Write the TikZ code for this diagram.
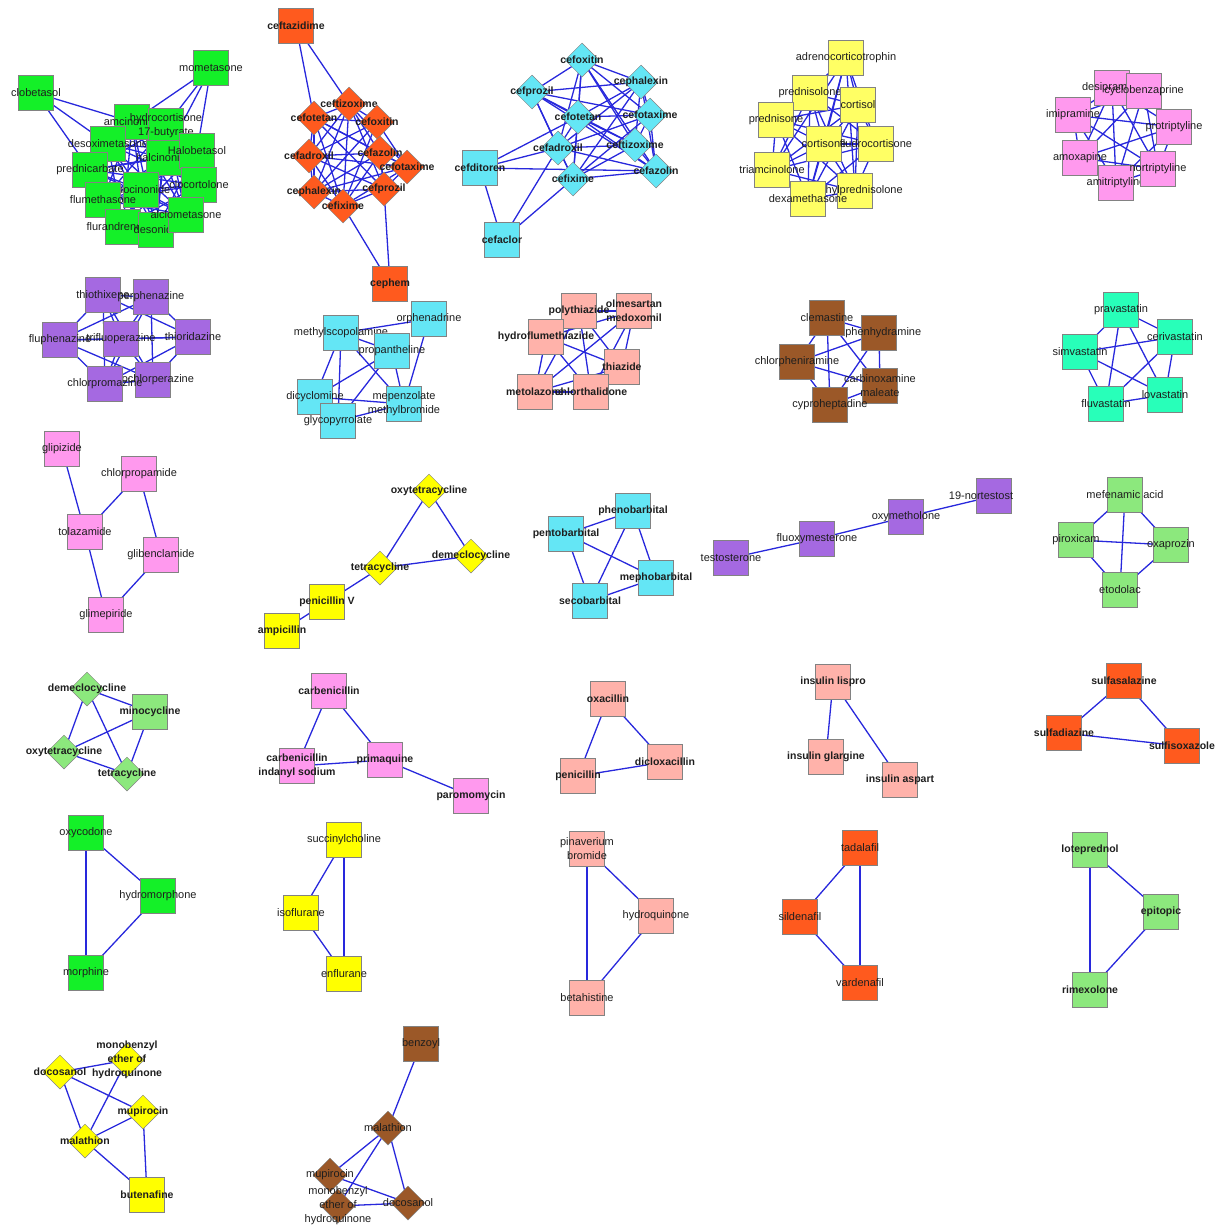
\documentclass[tikz,border=0pt]{standalone}
\usepackage{fontspec}
\setmainfont{Liberation Sans}
\usetikzlibrary{shapes.geometric}
\pgfdeclarelayer{bg}
\pgfsetlayers{bg,main}
\definecolor{cGreen}{RGB}{20,240,40}
\definecolor{cOrange}{RGB}{255,90,30}
\definecolor{cCyan}{RGB}{100,230,245}
\definecolor{cLYellow}{RGB}{255,255,100}
\definecolor{cYellow}{RGB}{255,255,0}
\definecolor{cPink}{RGB}{255,153,238}
\definecolor{cPurple}{RGB}{165,105,225}
\definecolor{cSalmon}{RGB}{255,178,170}
\definecolor{cBrown}{RGB}{155,88,40}
\definecolor{cTeal}{RGB}{40,255,185}
\definecolor{cLGreen}{RGB}{140,232,125}
\definecolor{edgeblue}{RGB}{40,40,220}
\definecolor{bord}{RGB}{130,130,130}
\definecolor{txt}{RGB}{30,30,30}
\tikzset{
  sqbox/.style={rectangle, draw=bord, line width=0.5pt, minimum width=35pt, minimum height=35pt, inner sep=0pt},
  dmbox/.style={diamond, draw=bord, line width=0.5pt, minimum width=34pt, minimum height=34pt, inner sep=0pt},
  lab/.style={font=\fontsize{11}{14}\selectfont, text=txt, align=center, inner sep=0pt},
  labb/.style={font=\fontsize{10.5}{14}\selectfont\bfseries, text=txt, align=center, inner sep=0pt},
  edge/.style={draw=edgeblue, line width=1.3pt}
}
\newcommand\SQ[5]{\node[sqbox,fill=#1,label={[lab]center:{#5}}] (#2) at (#3,#4) {};}
\newcommand\SQB[5]{\node[sqbox,fill=#1,label={[labb]center:{#5}}] (#2) at (#3,#4) {};}
\newcommand\DM[5]{\node[dmbox,fill=#1,label={[lab]center:{#5}}] (#2) at (#3,#4) {};}
\newcommand\DMB[5]{\node[dmbox,fill=#1,label={[labb]center:{#5}}] (#2) at (#3,#4) {};}
\newcommand\cliqueof[1]{\foreach \u [count=\i] in {#1}{\foreach \v [count=\j] in {#1}{\ifnum\i<\j\relax \draw[edge] (\u.center) -- (\v.center);\fi}}}
\newcommand\edgesof[1]{\foreach \u/\v in {#1}{\draw[edge] (\u.center) -- (\v.center);}}
\begin{document}
\begin{tikzpicture}[x=1pt,y=-1pt]
\useasboundingbox (0,0) rectangle (1219,1226);
% ---- green corticosteroids
\SQ{cGreen}{gclo}{36}{93}{clobetasol}
\SQ{cGreen}{gmom}{211}{68}{mometasone}
\SQ{cGreen}{gamc}{132}{122}{amcinonide}
\SQ{cGreen}{gdes}{108}{144}{desoximetasone}
\SQ{cGreen}{ghyd}{166}{126}{hydrocortisone\\17-butyrate}
\SQ{cGreen}{ghlc}{164}{158}{halcinonide}
\SQ{cGreen}{ghal}{197}{151}{Halobetasol}
\SQ{cGreen}{gpre}{90}{170}{prednicarbate}
\SQ{cGreen}{gflc}{141}{190}{fluocinonide}
\SQ{cGreen}{gclc}{199}{185}{clocortolone}
\SQ{cGreen}{gflm}{103}{200}{flumethasone}
\SQ{cGreen}{gflr}{123}{227}{flurandrenolide}
\SQ{cGreen}{gdsn}{156}{230}{desonide}
\SQ{cGreen}{galc}{186}{215}{alclometasone}
% ---- orange cephalosporins
\SQB{cOrange}{oftz}{296}{26}{ceftazidime}
\DMB{cOrange}{ofzx}{349}{104}{ceftizoxime}
\DMB{cOrange}{oftt}{314}{118}{cefotetan}
\DMB{cOrange}{ofox}{377}{122}{cefoxitin}
\DMB{cOrange}{ofad}{309}{156}{cefadroxil}
\DMB{cOrange}{ofaz}{380}{153}{cefazolin}
\DMB{cOrange}{ofta}{407}{167}{cefotaxime}
\DMB{cOrange}{ofph}{314}{192}{cephalexin}
\DMB{cOrange}{ofpr}{384}{189}{cefprozil}
\DMB{cOrange}{ofix}{343}{206}{cefixime}
\SQB{cOrange}{ophm}{390}{284}{cephem}
% ---- cyan cephalosporins
\DMB{cCyan}{cfox}{582}{60}{cefoxitin}
\DMB{cCyan}{cphx}{641}{82}{cephalexin}
\DMB{cCyan}{cfpr}{532}{92}{cefprozil}
\DMB{cCyan}{cftt}{578}{117}{cefotetan}
\DMB{cCyan}{cfta}{650}{115}{cefotaxime}
\DMB{cCyan}{cfad}{558}{148}{cefadroxil}
\DMB{cCyan}{cfzx}{635}{145}{ceftizoxime}
\DMB{cCyan}{cfaz}{656}{171}{cefazolin}
\DMB{cCyan}{cfix}{573}{179}{cefixime}
\SQB{cCyan}{cfdt}{480}{168}{cefditoren}
\SQB{cCyan}{cfcl}{502}{240}{cefaclor}
% ---- yellow corticosteroids
\SQ{cLYellow}{yadr}{846}{58}{adrenocorticotrophin}
\SQ{cLYellow}{ypsl}{810}{93}{prednisolone}
\SQ{cLYellow}{ycsl}{858}{105}{cortisol}
\SQ{cLYellow}{ypsn}{776}{120}{prednisone}
\SQ{cLYellow}{ycsn}{824}{144}{cortisone}
\SQ{cLYellow}{yfld}{876}{144}{fludrocortisone}
\SQ{cLYellow}{ytri}{772}{170}{triamcinolone}
\SQ{cLYellow}{ymet}{855}{191}{methylprednisolone}
\SQ{cLYellow}{ydex}{808}{199}{dexamethasone}
% ---- pink tricyclics
\SQ{cPink}{tdes}{1112}{88}{desipramine}
\SQ{cPink}{tcyc}{1144}{91}{cyclobenzaprine}
\SQ{cPink}{timi}{1073}{115}{imipramine}
\SQ{cPink}{tpro}{1174}{127}{protriptyline}
\SQ{cPink}{tamo}{1080}{158}{amoxapine}
\SQ{cPink}{tami}{1116}{183}{amitriptyline}
\SQ{cPink}{tnor}{1158}{169}{nortriptyline}
% ---- purple phenothiazines
\SQ{cPurple}{pthx}{103}{295}{thiothixene}
\SQ{cPurple}{pper}{151}{297}{perphenazine}
\SQ{cPurple}{pflu}{60}{340}{fluphenazine}
\SQ{cPurple}{ptri}{121}{339}{trifluoperazine}
\SQ{cPurple}{pthr}{193}{337}{thioridazine}
\SQ{cPurple}{ppro}{153}{380}{prochlorperazine}
\SQ{cPurple}{pchl}{105}{384}{chlorpromazine}
% ---- cyan anticholinergics
\SQ{cCyan}{aorp}{429}{319}{orphenadrine}
\SQ{cCyan}{amsc}{341}{333}{methylscopolamine}
\SQ{cCyan}{apro}{392}{351}{propantheline}
\SQ{cCyan}{adic}{315}{397}{dicyclomine}
\SQ{cCyan}{agly}{338}{421}{glycopyrrolate}
\SQ{cCyan}{amep}{404}{404}{mepenzolate\\methylbromide}
% ---- salmon thiazides
\SQB{cSalmon}{hpol}{579}{311}{polythiazide}
\SQB{cSalmon}{holm}{634}{311}{olmesartan\\medoxomil}
\SQB{cSalmon}{hhyd}{546}{337}{hydroflumethiazide}
\SQB{cSalmon}{hthi}{622}{367}{thiazide}
\SQB{cSalmon}{hmet}{535}{392}{metolazone}
\SQB{cSalmon}{hchl}{591}{392}{chlorthalidone}
% ---- brown antihistamines
\SQ{cBrown}{bdip}{879}{333}{diphenhydramine}
\SQ{cBrown}{bcle}{827}{318}{clemastine}
\SQ{cBrown}{bchl}{797}{362}{chlorpheniramine}
\SQ{cBrown}{bcar}{880}{386}{carbinoxamine\\maleate}
\SQ{cBrown}{bcyp}{830}{405}{cyproheptadine}
% ---- statins
\SQ{cTeal}{spra}{1121}{310}{pravastatin}
\SQ{cTeal}{scer}{1175}{337}{cerivastatin}
\SQ{cTeal}{ssim}{1080}{352}{simvastatin}
\SQ{cTeal}{slov}{1165}{395}{lovastatin}
\SQ{cTeal}{sflu}{1106}{404}{fluvastatin}
% ---- sulfonylureas
\SQ{cPink}{ugli}{62}{449}{glipizide}
\SQ{cPink}{uchl}{139}{474}{chlorpropamide}
\SQ{cPink}{utol}{85}{532}{tolazamide}
\SQ{cPink}{ugbc}{161}{555}{glibenclamide}
\SQ{cPink}{ugmp}{106}{615}{glimepiride}
% ---- yellow tetracyclines / penicillins
\DMB{cYellow}{vox}{429}{491}{oxytetracycline}
\DMB{cYellow}{vdem}{471}{556}{demeclocycline}
\DMB{cYellow}{vtet}{380}{568}{tetracycline}
\SQB{cYellow}{vpen}{327}{602}{penicillin V}
\SQB{cYellow}{vamp}{282}{631}{ampicillin}
% ---- barbiturates
\SQB{cCyan}{rphe}{633}{511}{phenobarbital}
\SQB{cCyan}{rpen}{566}{534}{pentobarbital}
\SQB{cCyan}{rmep}{656}{578}{mephobarbital}
\SQB{cCyan}{rsec}{590}{601}{secobarbital}
% ---- steroids
\SQ{cPurple}{ktes}{731}{558}{testosterone}
\SQ{cPurple}{kflu}{817}{539}{fluoxymesterone}
\SQ{cPurple}{koxy}{906}{517}{oxymetholone}
\node[sqbox,fill=cPurple,label={[lab,xshift=-13pt]center:19-nortestost}] (knor) at (994,496) {};
% ---- NSAIDs
\SQ{cLGreen}{nmef}{1125}{495}{mefenamic acid}
\SQ{cLGreen}{npir}{1076}{540}{piroxicam}
\SQ{cLGreen}{noxa}{1171}{545}{oxaprozin}
\SQ{cLGreen}{neto}{1120}{590}{etodolac}
% ---- light green tetracyclines
\DMB{cLGreen}{ldem}{87}{689}{demeclocycline}
\SQB{cLGreen}{lmin}{150}{712}{minocycline}
\DMB{cLGreen}{loxy}{64}{752}{oxytetracycline}
\DMB{cLGreen}{ltet}{127}{774}{tetracycline}
% ---- carbenicillin
\SQB{cPink}{mcar}{329}{691}{carbenicillin}
\SQB{cPink}{mind}{297}{766}{carbenicillin\\indanyl sodium}
\SQB{cPink}{mpri}{385}{760}{primaquine}
\SQB{cPink}{mpar}{471}{796}{paromomycin}
% ---- oxacillin
\SQB{cSalmon}{xoxa}{608}{699}{oxacillin}
\SQB{cSalmon}{xpen}{578}{776}{penicillin}
\SQB{cSalmon}{xdic}{665}{762}{dicloxacillin}
% ---- insulin
\SQB{cSalmon}{ilis}{833}{682}{insulin lispro}
\SQB{cSalmon}{igla}{826}{757}{insulin glargine}
\SQB{cSalmon}{iasp}{900}{780}{insulin aspart}
% ---- sulfa
\SQB{cOrange}{fsal}{1124}{681}{sulfasalazine}
\SQB{cOrange}{fdia}{1064}{733}{sulfadiazine}
\SQB{cOrange}{fiso}{1182}{746}{sulfisoxazole}
% ---- opioids
\SQ{cGreen}{qoxy}{86}{833}{oxycodone}
\SQ{cGreen}{qhyd}{158}{896}{hydromorphone}
\SQ{cGreen}{qmor}{86}{973}{morphine}
% ---- anesthetics
\SQ{cYellow}{esuc}{344}{840}{succinylcholine}
\SQ{cYellow}{eiso}{301}{913}{isoflurane}
\SQ{cYellow}{eenf}{344}{974}{enflurane}
% ---- pinaverium
\SQ{cSalmon}{wpin}{587}{849}{pinaverium\\bromide}
\SQ{cSalmon}{whyd}{656}{916}{hydroquinone}
\SQ{cSalmon}{wbet}{587}{998}{betahistine}
% ---- PDE5
\SQ{cOrange}{dtad}{860}{848}{tadalafil}
\SQ{cOrange}{dsil}{800}{917}{sildenafil}
\SQ{cOrange}{dvar}{860}{983}{vardenafil}
% ---- loteprednol
\SQB{cLGreen}{jlot}{1090}{850}{loteprednol}
\SQB{cLGreen}{jepi}{1161}{912}{epitopic}
\SQB{cLGreen}{jrim}{1090}{990}{rimexolone}
% ---- yellow docosanol
\DMB{cYellow}{zdoc}{60}{1072}{docosanol}
\DMB{cYellow}{zmon}{127}{1060}{monobenzyl\\ether of\\hydroquinone}
\DMB{cYellow}{zmup}{143}{1112}{mupirocin}
\DMB{cYellow}{zmal}{85}{1141}{malathion}
\SQB{cYellow}{zbut}{147}{1195}{butenafine}
% ---- brown benzoyl
\SQ{cBrown}{brben}{421}{1044}{benzoyl}
\DM{cBrown}{brmal}{388}{1128}{malathion}
\DM{cBrown}{brmup}{330}{1175}{mupirocin}
\DM{cBrown}{brdoc}{408}{1203}{docosanol}
\DM{cBrown}{brmon}{338}{1206}{monobenzyl\\ether of\\hydroquinone}
% ================= edges
\begin{pgfonlayer}{bg}
\edgesof{gclo/gamc,gclo/gdes,gclo/gpre,gmom/gamc,gmom/ghyd,gmom/ghlc,gmom/ghal}
\cliqueof{gamc,ghyd,gdes,ghal,ghlc,gpre,gflc,gclc,gflm,galc,gflr,gdsn}
\cliqueof{ofzx,oftt,ofox,ofad,ofaz,ofta,ofph,ofpr,ofix}
\edgesof{oftz/oftt,oftz/ofzx,ophm/ofix,ophm/ofpr}
\cliqueof{cfox,cphx,cfpr,cftt,cfta,cfad,cfzx,cfaz,cfix}
\edgesof{cfdt/cftt,cfdt/cfad,cfdt/cfaz,cfdt/cfcl,cfcl/cfad,cfcl/cfix}
\cliqueof{yadr,ypsl,ycsl,ypsn,ycsn,yfld,ytri,ymet,ydex}
\cliqueof{tdes,tcyc,timi,tpro,tamo,tami,tnor}
\cliqueof{pthx,pper,pflu,ptri,pthr,ppro,pchl}
\edgesof{amsc/aorp,amsc/apro,amsc/adic,amsc/agly,amsc/amep,aorp/amep,apro/adic,apro/agly,apro/amep,adic/amep,agly/amep}
\cliqueof{hpol,holm,hhyd,hthi,hmet,hchl}
\cliqueof{bdip,bcle,bchl,bcar,bcyp}
\cliqueof{spra,scer,ssim,slov,sflu}
\edgesof{ugli/utol,uchl/utol,uchl/ugbc,utol/ugmp,ugbc/ugmp}
\edgesof{vox/vtet,vox/vdem,vtet/vdem,vtet/vpen,vpen/vamp}
\cliqueof{rphe,rpen,rmep,rsec}
\edgesof{ktes/kflu,kflu/koxy,koxy/knor}
\cliqueof{nmef,npir,noxa,neto}
\cliqueof{ldem,lmin,loxy,ltet}
\edgesof{mcar/mind,mcar/mpri,mind/mpri,mpri/mpar}
\cliqueof{xoxa,xpen,xdic}
\edgesof{ilis/igla,ilis/iasp}
\cliqueof{fsal,fdia,fiso}
\cliqueof{qoxy,qhyd,qmor}
\cliqueof{esuc,eiso,eenf}
\cliqueof{wpin,whyd,wbet}
\cliqueof{dtad,dsil,dvar}
\cliqueof{jlot,jepi,jrim}
\edgesof{zdoc/zmon,zdoc/zmup,zdoc/zmal,zmon/zmal,zmal/zmup,zmal/zbut,zmup/zbut}
\edgesof{brben/brmal,brmal/brmup,brmal/brmon,brmal/brdoc,brmup/brdoc,brmon/brdoc}
\end{pgfonlayer}
\end{tikzpicture}
\end{document}
